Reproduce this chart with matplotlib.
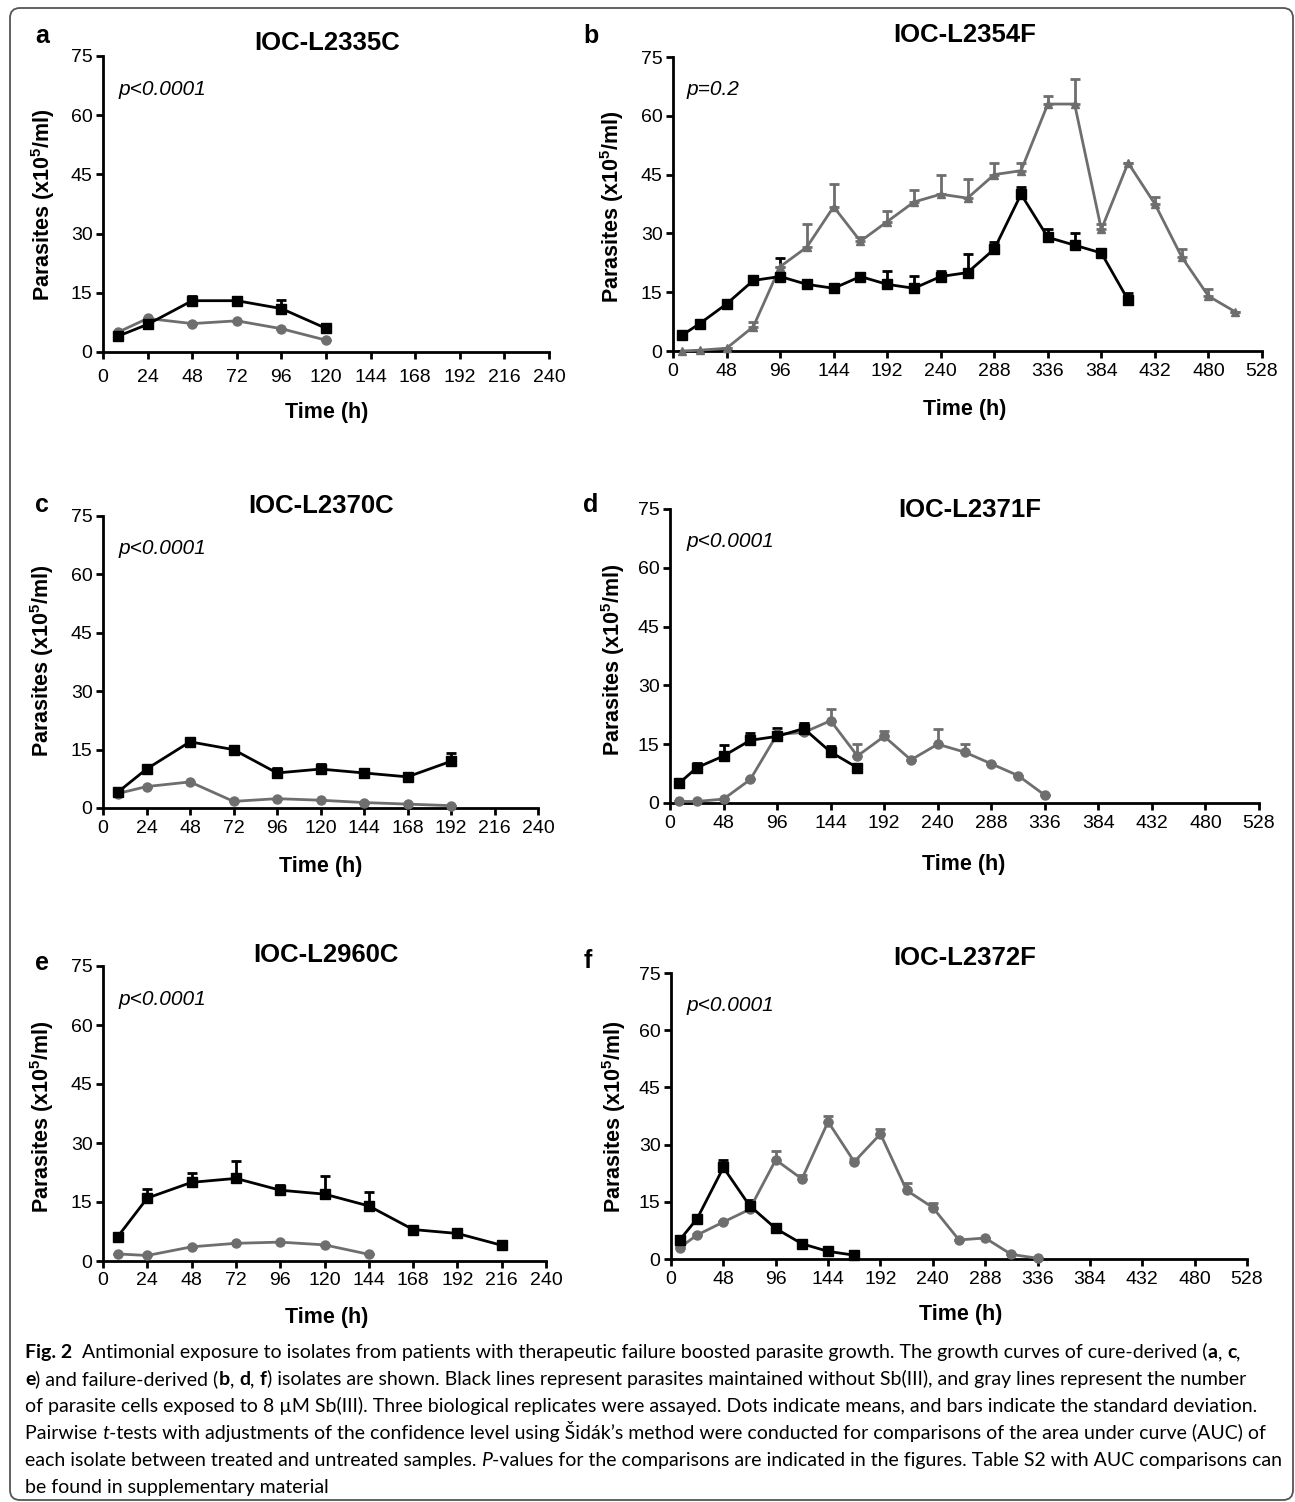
import numpy as np
import matplotlib
matplotlib.use('Agg')
import matplotlib.pyplot as plt
from matplotlib.patches import FancyBboxPatch

W, H = 1295, 1502
GRAY = '#6e6e6e'

plt.rcParams['font.family'] = ['Liberation Sans', 'DejaVu Sans']
plt.rcParams['mathtext.fontset'] = 'custom'
plt.rcParams['mathtext.rm'] = 'Liberation Sans'
plt.rcParams['mathtext.bf'] = 'Liberation Sans:bold'

# ---- data: parasites (x10^5/ml), mean and upper SD ----
# a  IOC-L2335C
a_t = [8, 24, 48, 72, 96, 120]
a_black = [4, 7, 13, 13, 11, 6]
a_black_sd = [0.4, 0.4, 1.2, 1.0, 2.2, 0.4]
a_gray = [5, 8.5, 7.2, 7.9, 5.9, 3]
a_gray_sd = [0, 0, 0, 0, 0, 0]

# b  IOC-L2354F
b_black_t = [8, 24, 48, 72, 96, 120, 144, 168, 192, 216, 240, 264, 288, 312, 336, 360, 384, 408]
b_black = [4, 7, 12, 18, 19, 17, 16, 19, 17, 16, 19, 20, 26, 40, 29, 27, 25, 13]
b_black_sd = [0.3, 0.3, 0.4, 1.1, 4.7, 0.9, 0.5, 0.8, 3.5, 3.1, 1.5, 4.8, 1.7, 1.8, 2, 3, 0.8, 1.7]
b_gray_t = [8, 24, 48, 72, 96, 120, 144, 168, 192, 216, 240, 264, 288, 312, 336, 360, 384, 408,
            432, 456, 480, 504]
b_gray = [0, 0.2, 0.7, 6.2, 21.5, 26.5, 36.8, 28, 33, 38, 40, 39, 45, 46, 63, 63, 31, 48,
          37.5, 24, 14, 10]
b_gray_sd = [0, 0, 0, 1.3, 0, 6, 5.8, 1.2, 2.8, 3, 5, 5, 3, 2, 2, 6.4, 1.3, 0,
             1.7, 2, 1.9, 0]

# c  IOC-L2370C
c_t = [8, 24, 48, 72, 96, 120, 144, 168, 192]
c_black = [4, 10, 17, 15, 9, 10, 9, 8, 12]
c_black_sd = [0.5, 0.4, 0.5, 0.5, 1.2, 1.3, 0.5, 0.5, 2.1]
c_gray = [3.7, 5.5, 6.7, 1.7, 2.4, 2.0, 1.4, 1.0, 0.6]
c_gray_sd = [0, 0, 0, 0, 0, 0, 0, 0, 0]

# d  IOC-L2371F
d_black_t = [8, 24, 48, 72, 96, 120, 144, 168]
d_black = [5, 9, 12, 16, 17, 19, 13, 9]
d_black_sd = [0.3, 1.2, 2.7, 1.9, 2.1, 1.3, 1.5, 0.3]
d_gray_t = [8, 24, 48, 72, 96, 120, 144, 168, 192, 216, 240, 264, 288, 312, 336]
d_gray = [0.4, 0.4, 1, 6, 17.5, 18, 21, 12, 17, 11, 15, 13, 10, 7, 2]
d_gray_sd = [0, 0, 0, 0, 0, 2.5, 3, 3, 1.3, 0, 4, 2, 0, 0, 0]

# e  IOC-L2960C
e_black_t = [8, 24, 48, 72, 96, 120, 144, 168, 192, 216]
e_black = [6.2, 16, 20, 21, 18, 17, 14, 8, 7, 4]
e_black_sd = [1, 2.4, 2.5, 4.3, 1.3, 4.7, 3.6, 0.3, 0.3, 0.3]
e_gray_t = [8, 24, 48, 72, 96, 120, 144]
e_gray = [1.8, 1.4, 3.6, 4.5, 4.8, 4.1, 1.7]
e_gray_sd = [0, 0, 0, 0, 0, 0, 0]

# f  IOC-L2372F
f_black_t = [8, 24, 48, 72, 96, 120, 144, 168]
f_black = [5, 10.6, 24, 14, 8, 4, 2, 1]
f_black_sd = [0.3, 0.3, 1.9, 1.6, 0.3, 0.3, 0.3, 0.3]
f_gray_t = [8, 24, 48, 72, 96, 120, 144, 168, 192, 216, 240, 264, 288, 312, 336]
f_gray = [3, 6.3, 9.7, 13, 26, 21, 36, 25.5, 32.8, 18, 13.5, 5, 5.5, 1.2, 0.2]
f_gray_sd = [0.3, 0.3, 0.3, 0.5, 2.4, 1, 1.5, 0.8, 1.2, 1.9, 1.3, 0, 0, 0, 0]

names = ['IOC-L2335C', 'IOC-L2354F', 'IOC-L2370C', 'IOC-L2371F', 'IOC-L2960C', 'IOC-L2372F']
pvals = ['p<0.0001', 'p=0.2', 'p<0.0001', 'p<0.0001', 'p<0.0001', 'p<0.0001']
letters = ['a', 'b', 'c', 'd', 'e', 'f']

fig = plt.figure(figsize=(W / 100, H / 100), dpi=100)


def fx(x):
    return x / W


def fy(y):
    return 1 - y / H


def draw_panel(box, xmax, xstep, black, gray, gmarker, xpad):
    l, r, t, b = box
    ax = fig.add_axes([fx(l), fy(b), (r - l) / W, (b - t) / H])
    for (tt, yy, sd), col, mk, ms in [(gray, GRAY, gmarker, 6.5 if gmarker == 'o' else 6),
                                       (black, 'black', 's', 6.8)]:
        ax.errorbar(tt, yy, yerr=[np.zeros(len(sd)), sd], fmt='none', ecolor=col,
                    elinewidth=2, capsize=3.5, capthick=2, clip_on=False, zorder=2)
        ax.plot(tt, yy, color=col, lw=2, marker=mk, ms=ms, clip_on=False, zorder=3)
    ax.set_xlim(0, xmax)
    ax.set_ylim(0, 75)
    ax.set_xticks(np.arange(0, xmax + 1, xstep))
    ax.set_yticks([0, 15, 30, 45, 60, 75])
    for s in ['top', 'right']:
        ax.spines[s].set_visible(False)
    for s in ['left', 'bottom']:
        ax.spines[s].set_linewidth(2)
    ax.tick_params(width=2, length=5, labelsize=14, direction='out')
    ax.tick_params(axis='x', pad=xpad)
    ax.tick_params(axis='y', pad=2.5)
    return ax


# pixel boxes (left, right, top, bottom)
boxes = [(103, 549, 56, 352), (673, 1262, 57, 351),
         (103, 538, 516, 808), (670, 1259, 509, 803),
         (103, 546, 966, 1261), (671, 1247, 973, 1259)]
xmaxes = [240, 528, 240, 528, 240, 528]
xsteps = [24, 48, 24, 48, 24, 48]
xpads = [7, 3.5, 3.5, 3.5, 3, 3.5]
series = [
    ((a_t, a_black, a_black_sd), (a_t, a_gray, a_gray_sd), 'o'),
    ((b_black_t, b_black, b_black_sd), (b_gray_t, b_gray, b_gray_sd), '^'),
    ((c_t, c_black, c_black_sd), (c_t, c_gray, c_gray_sd), 'o'),
    ((d_black_t, d_black, d_black_sd), (d_gray_t, d_gray, d_gray_sd), 'o'),
    ((e_black_t, e_black, e_black_sd), (e_gray_t, e_gray, e_gray_sd), 'o'),
    ((f_black_t, f_black, f_black_sd), (f_gray_t, f_gray, f_gray_sd), 'o'),
]

# text anchor positions in pixels
letter_pos = [(42, 43), (591, 43), (42, 512), (591, 512), (42, 970), (588, 968)]
title_pos = [(327, 50), (965, 42), (321, 513), (970, 517), (326, 962), (965, 965)]
xlab_pos = [(327, 418), (965, 415), (321, 872), (964, 870), (327, 1323), (961, 1320)]
ylab_pos = [(43, 205), (612, 207), (42, 661), (613, 660), (42, 1117), (614, 1117)]
p_pos = [(119, 95), (687, 95), (119, 554), (687, 547), (119, 1005), (687, 1011)]

for i in range(6):
    blk, gry, gm = series[i]
    draw_panel(boxes[i], xmaxes[i], xsteps[i], blk, gry, gm, xpads[i])
    fig.text(fx(letter_pos[i][0]), fy(letter_pos[i][1]), letters[i], fontsize=18,
             weight='bold', ha='center', va='baseline')
    fig.text(fx(title_pos[i][0]), fy(title_pos[i][1]), names[i], fontsize=18.5,
             weight='bold', ha='center', va='baseline')
    fig.text(fx(xlab_pos[i][0]), fy(xlab_pos[i][1]), 'Time (h)', fontsize=15.5,
             weight='bold', ha='center', va='baseline')
    fig.text(fx(ylab_pos[i][0]), fy(ylab_pos[i][1]), r'Parasites (x10$\mathbf{^{5}}$/ml)',
             fontsize=15.5, weight='bold', rotation=90, ha='center', va='center')
    fig.text(fx(p_pos[i][0]), fy(p_pos[i][1]), pvals[i], fontsize=15, style='italic',
             ha='left', va='baseline')

# ---- caption ----
CAP_FONT = ['Lato', 'DejaVu Sans']
N = {}
B = {'weight': 'bold'}
I = {'style': 'italic'}
cap_lines = [
    [('Fig. 2', B), ('  Antimonial exposure to isolates from patients with therapeutic failure boosted '
                     'parasite growth. The growth curves of cure-derived (', N), ('a', B), (', ', N),
     ('c', B), (',', N)],
    [('e', B), (') and failure-derived (', N), ('b', B), (', ', N), ('d', B), (', ', N), ('f', B),
     (') isolates are shown. Black lines represent parasites maintained without Sb(III), and gray '
      'lines represent the number', N)],
    [('of parasite cells exposed to 8 \u00b5M Sb(III). Three biological replicates were assayed. '
      'Dots indicate means, and bars indicate the standard deviation.', N)],
    [('Pairwise ', N), ('t', I), ('-tests with adjustments of the confidence level using '
                                  '\u0160id\u00e1k\u2019s method were conducted for comparisons of '
                                  'the area under curve (AUC) of', N)],
    [('each isolate between treated and untreated samples. ', N), ('P', I),
     ('-values for the comparisons are indicated in the figures. Table S2 with AUC comparisons can', N)],
    [('be found in supplementary material', N)],
]
cap_y = [1358, 1385, 1412, 1439, 1466, 1493]
renderer = fig.canvas.get_renderer()


def text_w(s, size, kw):
    t = fig.text(0, 0, s, fontsize=size, family=CAP_FONT, **kw)
    w = t.get_window_extent(renderer).width
    t.remove()
    return w


def caption_line(y, parts, size):
    # advance width of each run, spaces included, measured between two bars
    x = 25
    made = []
    for txt, kw in parts:
        t = fig.text(fx(x), fy(y), txt, fontsize=size, family=CAP_FONT,
                     ha='left', va='baseline', **kw)
        made.append(t)
        x += text_w('|' + txt + '|', size, kw) - text_w('||', size, kw)
    return x, made


end, tmp = caption_line(cap_y[0], cap_lines[0], 12)
for t in tmp:
    t.remove()
cap_size = 12 * 1208 / (end - 25)
for y, parts in zip(cap_y, cap_lines):
    caption_line(y, parts, cap_size)

# rounded frame
frame = FancyBboxPatch((10 / 100, (H - 1500) / 100), (1293 - 10) / 100, (1500 - 8) / 100,
                       boxstyle='round,pad=0,rounding_size=0.1', transform=fig.dpi_scale_trans,
                       fill=False, edgecolor='#555555', lw=1.3)
fig.patches.append(frame)

fig.savefig('out.png', dpi=100)
